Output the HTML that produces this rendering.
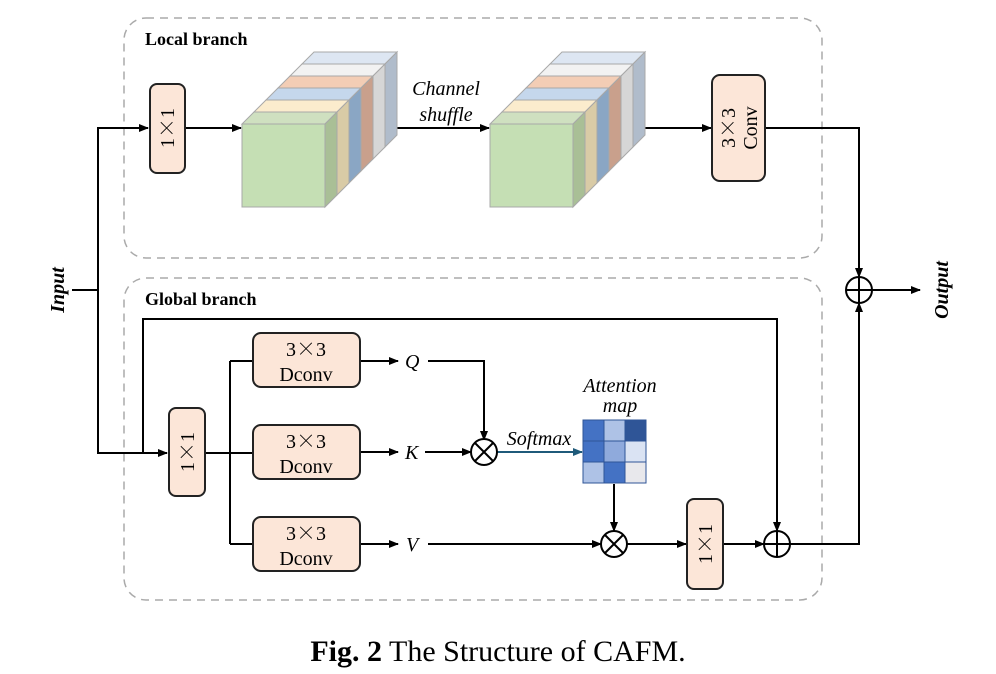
<!DOCTYPE html>
<html><head><meta charset="utf-8"><style>
html,body{margin:0;padding:0;background:#fff;}
svg{display:block;font-family:"Liberation Serif",serif;}
.x{font-family:"Noto Serif CJK SC","Noto Sans CJK SC",serif;}
</style></head><body>
<svg width="996" height="674" viewBox="0 0 996 674" xmlns="http://www.w3.org/2000/svg">
<defs>
<marker id="a" markerWidth="10" markerHeight="8" refX="9" refY="4" orient="auto" markerUnits="userSpaceOnUse"><path d="M0,0 L10,4 L0,8 z" fill="#000"/></marker>
<marker id="t" markerWidth="10" markerHeight="8" refX="9" refY="4" orient="auto" markerUnits="userSpaceOnUse"><path d="M0,0 L10,4 L0,8 z" fill="#1f5a7a"/></marker>
</defs>
<rect x="124" y="18" width="698" height="240" rx="22" fill="none" stroke="#aaa" stroke-width="1.5" stroke-dasharray="8,6"/>
<rect x="124" y="278" width="698" height="322" rx="22" fill="none" stroke="#aaa" stroke-width="1.5" stroke-dasharray="8,6"/>
<text x="145" y="45" font-size="18" font-weight="bold">Local branch</text>
<text x="145" y="305" font-size="18" font-weight="bold">Global branch</text>

<g fill="none" stroke="#000" stroke-width="2">
<path d="M72,290 H98 V128 H148" marker-end="url(#a)"/>
<path d="M98,290 V453 H167" marker-end="url(#a)"/>
<path d="M185,128 H241" marker-end="url(#a)"/>
<path d="M358,128 H489" marker-end="url(#a)"/>
<path d="M607,128 H711" marker-end="url(#a)"/>
<path d="M765,128 H859 V277" marker-end="url(#a)"/>
<path d="M872,290 H920" marker-end="url(#a)"/>
<path d="M143,453 V319 H777 V531" marker-end="url(#a)"/>
<path d="M205,453 H252"/>
<path d="M230,361 V544"/>
<path d="M230,361 H253 M230,544 H253"/>
<path d="M360,361 H398" marker-end="url(#a)"/>
<path d="M360,452 H398" marker-end="url(#a)"/>
<path d="M360,544 H398" marker-end="url(#a)"/>
<path d="M428,361 H484 V440" marker-end="url(#a)"/>
<path d="M425,452 H471" marker-end="url(#a)"/>
<path d="M428,544 H601" marker-end="url(#a)"/>
<path d="M614,484 V531" marker-end="url(#a)"/>
<path d="M627,544 H686" marker-end="url(#a)"/>
<path d="M723,544 H764" marker-end="url(#a)"/>
<path d="M790,544 H859 V303" marker-end="url(#a)"/>
</g>
<path d="M497,452 H582" stroke="#1f5a7a" stroke-width="2" fill="none" marker-end="url(#t)"/>

<g fill="#fff" stroke="#000" stroke-width="2">
<circle cx="859" cy="290" r="13"/><path d="M846,290 H872 M859,277 V303"/>
<circle cx="777" cy="544" r="13"/><path d="M764,544 H790 M777,531 V557"/>
<circle cx="484" cy="452" r="13"/><path d="M475,443 L493,461 M493,443 L475,461"/>
<circle cx="614" cy="544" r="13"/><path d="M605,535 L623,553 M623,535 L605,553"/>
</g>

<g fill="#fce6d8" stroke="#222" stroke-width="2">
<rect x="150" y="84" width="35" height="89" rx="7"/>
<rect x="712" y="75" width="53" height="106" rx="8"/>
<rect x="169" y="408" width="36" height="88" rx="7"/>
<rect x="687" y="499" width="36" height="90" rx="7"/>
<rect x="253" y="333" width="107" height="54" rx="8"/>
<rect x="253" y="425" width="107" height="54" rx="8"/>
<rect x="253" y="517" width="107" height="54" rx="8"/>
</g>
<g font-size="20" text-anchor="middle">
<text transform="translate(174,128) rotate(-90)">1<tspan class="x">×</tspan>1</text>
<text transform="translate(194,452) rotate(-90)">1<tspan class="x">×</tspan>1</text>
<text transform="translate(712,544) rotate(-90)">1<tspan class="x">×</tspan>1</text>
<text transform="translate(735,128) rotate(-90)">3<tspan class="x">×</tspan>3</text>
<text transform="translate(757,128) rotate(-90)">Conv</text>
<text x="306" y="356">3<tspan class="x">×</tspan>3</text><text x="306" y="381">Dconv</text>
<text x="306" y="448">3<tspan class="x">×</tspan>3</text><text x="306" y="473">Dconv</text>
<text x="306" y="540">3<tspan class="x">×</tspan>3</text><text x="306" y="565">Dconv</text>
</g>
<g font-size="20" font-style="italic">
<text x="405" y="368">Q</text>
<text x="405" y="459">K</text>
<text x="406" y="551">V</text>
<text x="446" y="95" text-anchor="middle">Channel</text>
<text x="446" y="121" text-anchor="middle">shuffle</text>
<text x="539" y="445" text-anchor="middle">Softmax</text>
<text x="620" y="392" text-anchor="middle">Attention</text>
<text x="620" y="412" text-anchor="middle">map</text>
<text transform="translate(64,290) rotate(-90)" text-anchor="middle" font-weight="bold">Input</text>
<text transform="translate(948,290) rotate(-90)" text-anchor="middle" font-weight="bold">Output</text>
</g>

<g stroke="#2f5597" stroke-width="1">
<rect x="583" y="420" width="21" height="21" fill="#4472c4"/>
<rect x="604" y="420" width="21" height="21" fill="#aec2e6"/>
<rect x="625" y="420" width="21" height="21" fill="#2f5597"/>
<rect x="583" y="441" width="21" height="21" fill="#4472c4"/>
<rect x="604" y="441" width="21" height="21" fill="#8faadc"/>
<rect x="625" y="441" width="21" height="21" fill="#dae3f3"/>
<rect x="583" y="462" width="21" height="21" fill="#aec2e6"/>
<rect x="604" y="462" width="21" height="21" fill="#4472c4"/>
<rect x="625" y="462" width="21" height="21" fill="#e8e8ec"/>
</g>

<g id="cube" stroke="#a8a8a8" stroke-width="1">
<polygon points="302,64 385,64 397,52 314,52" fill="#dde6f2"/><polygon points="385,64 397,52 397,135 385,147" fill="#b0bccb"/>
<polygon points="290,76 373,76 385,64 302,64" fill="#f2f2f2"/><polygon points="373,76 385,64 385,147 373,159" fill="#d6d6d6"/>
<polygon points="278,88 361,88 373,76 290,76" fill="#f3cdb5"/><polygon points="361,88 373,76 373,159 361,171" fill="#c9a08c"/>
<polygon points="266,100 349,100 361,88 278,88" fill="#c5d7ec"/><polygon points="349,100 361,88 361,171 349,183" fill="#8aa6c4"/>
<polygon points="254,112 337,112 349,100 266,100" fill="#fbeccd"/><polygon points="337,112 349,100 349,183 337,195" fill="#d9cba6"/>
<polygon points="242,124 325,124 337,112 254,112" fill="#cfe0c0"/><polygon points="325,124 337,112 337,195 325,207" fill="#a9bf96"/>
<rect x="242" y="124" width="83" height="83" fill="#c5dfb4"/>
</g>
<use href="#cube" transform="translate(248,0)"/>

<text x="498" y="661" font-size="30" text-anchor="middle"><tspan font-weight="bold">Fig. 2</tspan> The Structure of CAFM.</text>
</svg>
</body></html>
